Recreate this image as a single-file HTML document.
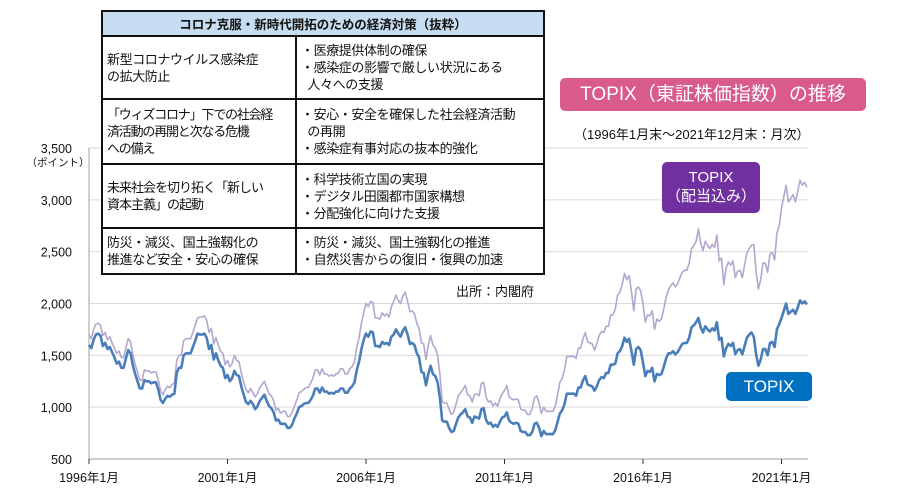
<!DOCTYPE html>
<html><head><meta charset="utf-8">
<style>
body{margin:0;background:#fff;width:900px;height:490px;overflow:hidden;position:relative;font-family:"Liberation Sans","Noto Sans CJK JP",sans-serif;}
svg{position:absolute;left:0;top:0}
#tbl{position:absolute;left:101px;top:10px;width:442px;border-collapse:collapse;font-size:13px;color:#111;background:#fff;table-layout:fixed}
#tbl td{border:2px solid #111;padding:0 4px;line-height:17px;vertical-align:middle;white-space:nowrap;overflow:hidden;letter-spacing:-0.4px}
#tbl th{border:2px solid #111;background:#c6ddf1;font-size:12.5px;height:23px;font-weight:bold;padding:0}
.box{position:absolute;color:#fff;text-align:center;border-radius:5px}
</style></head><body>
<svg id="chart" width="900" height="490"></svg>
<table id="tbl">
<colgroup><col style="width:194px"><col style="width:248px"></colgroup>
<tr><th colspan="2">コロナ克服・新時代開拓のための経済対策（抜粋）</th></tr>
<tr style="height:63px"><td>新型コロナウイルス感染症<br>の拡大防止</td><td>・医療提供体制の確保<br>・感染症の影響で厳しい状況にある<br>&nbsp;&nbsp;人々への支援</td></tr>
<tr style="height:65px"><td style="letter-spacing:-1.2px">「ウィズコロナ」下での社会経<br>済活動の再開と次なる危機<br>への備え</td><td>・安心・安全を確保した社会経済活動<br>&nbsp;&nbsp;の再開<br>・感染症有事対応の抜本的強化</td></tr>
<tr style="height:64px"><td style="letter-spacing:-1px">未来社会を切り拓く「新しい<br>資本主義」の起動</td><td>・科学技術立国の実現<br>・デジタル田園都市国家構想<br>・分配強化に向けた支援</td></tr>
<tr style="height:46px"><td>防災・減災、国土強靱化の<br>推進など安全・安心の確保</td><td>・防災・減災、国土強靱化の推進<br>・自然災害からの復旧・復興の加速</td></tr>
</table>
<div style="position:absolute;left:456px;top:281px;font-size:13px;color:#111">出所：内閣府</div>
<div class="box" style="left:560px;top:78px;width:306px;height:33px;line-height:33px;background:#d95b8c;font-size:19px">TOPIX（東証株価指数）の推移</div>
<div style="position:absolute;left:574px;top:124px;font-size:13px;color:#111">（1996年1月末～2021年12月末：月次）</div>
<div class="box" style="left:662px;top:162px;width:98px;height:51px;background:#7030a0;font-size:15px;line-height:19px;padding-top:6px;box-sizing:border-box">TOPIX<br>（配当込み）</div>
<div class="box" style="left:726px;top:372px;width:86px;height:29px;line-height:29px;background:#0070c0;font-size:17px">TOPIX</div>
<script>
const yTicks=[500,1000,1500,2000,2500,3000,3500];
const yTickLabels=["500","1,000","1,500","2,000","2,500","3,000","3,500"];
const xTickMonths=[0,60,120,180,240,300];
const xTickLabels=["1996年1月","2001年1月","2006年1月","2011年1月","2016年1月","2021年1月"];
const topix=[
1600,1570,1650,1700,1710,1690,1590,1620,1560,1580,1530,1480,
1420,1440,1380,1380,1470,1550,1520,1400,1320,1250,1180,1180,
1260,1250,1250,1230,1240,1240,1170,1070,1040,1080,1110,1100,
1120,1130,1330,1380,1380,1500,1520,1520,1520,1580,1640,1710,
1700,1700,1710,1670,1560,1600,1460,1520,1450,1400,1380,1280,
1310,1250,1280,1350,1310,1300,1200,1120,1050,1030,1060,1030,
980,1010,1060,1090,1120,1060,1010,990,950,870,880,840,
840,840,800,800,830,890,940,1000,1010,1030,1040,1040,
1070,1110,1180,1180,1140,1190,1150,1150,1130,1140,1130,1150,
1150,1180,1180,1140,1140,1180,1200,1240,1360,1440,1560,1650,
1710,1680,1730,1720,1590,1590,1580,1630,1610,1620,1600,1680,
1700,1750,1710,1680,1740,1770,1700,1610,1620,1600,1520,1480,
1340,1330,1210,1320,1400,1320,1300,1240,1090,870,860,860,
800,760,770,840,900,930,950,980,910,900,850,910,
900,890,980,990,880,840,850,810,830,810,860,900,
910,950,870,850,840,850,840,770,760,760,730,730,
760,840,850,800,720,770,740,740,740,740,780,860,
940,970,1030,1130,1130,1130,1130,1110,1190,1190,1260,1300,
1220,1210,1200,1160,1200,1260,1290,1280,1330,1330,1410,1410,
1420,1520,1540,1590,1670,1630,1660,1540,1410,1560,1580,1550,
1430,1300,1350,1340,1380,1250,1320,1310,1320,1390,1470,1520,
1520,1540,1510,1530,1570,1610,1620,1620,1670,1770,1790,1820,
1860,1770,1720,1780,1750,1730,1760,1740,1820,1650,1670,1490,
1570,1610,1590,1620,1510,1550,1560,1510,1590,1670,1700,1720,
1680,1510,1400,1460,1560,1560,1500,1620,1630,1580,1750,1800,
1860,1930,2000,1900,1920,1940,1900,1960,2030,2000,2020,1990];
const topixDividend=[
1700,1660,1750,1800,1810,1790,1690,1720,1650,1680,1620,1570,
1520,1540,1480,1480,1570,1660,1630,1500,1410,1340,1260,1260,
1360,1350,1350,1330,1340,1340,1260,1160,1120,1170,1200,1190,
1220,1230,1450,1500,1500,1640,1660,1660,1660,1720,1790,1860,
1870,1870,1880,1840,1720,1760,1610,1670,1600,1540,1520,1410,
1450,1390,1420,1500,1450,1440,1330,1240,1170,1140,1180,1140,
1100,1130,1190,1220,1250,1190,1130,1110,1060,970,990,940,
960,960,910,910,950,1010,1070,1140,1150,1170,1190,1190,
1230,1280,1360,1360,1310,1370,1320,1320,1300,1310,1300,1320,
1330,1370,1370,1320,1320,1370,1390,1440,1580,1670,1810,1910,
2000,1970,2020,2010,1860,1860,1850,1910,1880,1900,1870,1970,
2020,2080,2030,2000,2070,2110,2020,1920,1930,1900,1810,1760,
1620,1610,1460,1600,1690,1600,1570,1500,1320,1050,1040,1040,
980,930,950,1030,1110,1140,1170,1210,1120,1110,1050,1120,
1130,1110,1230,1240,1100,1050,1060,1010,1040,1010,1080,1130,
1160,1210,1100,1080,1070,1080,1070,980,970,970,930,930,
990,1090,1110,1040,940,1000,960,960,960,960,1010,1120,
1240,1280,1360,1490,1490,1490,1490,1470,1570,1570,1660,1720,
1630,1620,1610,1550,1610,1690,1730,1720,1780,1780,1890,1890,
1950,2080,2110,2180,2290,2230,2270,2110,1930,2140,2160,2120,
2000,1820,1890,1880,1930,1750,1850,1830,1850,1950,2060,2130,
2170,2200,2160,2190,2250,2300,2320,2320,2390,2530,2560,2600,
2720,2580,2510,2600,2560,2530,2570,2540,2660,2410,2440,2180,
2340,2400,2370,2410,2250,2310,2320,2250,2370,2490,2530,2560,
2570,2310,2140,2230,2390,2390,2300,2480,2490,2420,2680,2750,
2920,3030,3140,2980,3010,3050,2980,3080,3190,3140,3170,3120];

const NS="http://www.w3.org/2000/svg";
const svg=document.getElementById('chart');
const X0=89,X1=808,Y0=459,Y1=148;
function xs(i){return X0+i*138.5/60;}
function ys(v){return Y0-(v-500)*(Y0-Y1)/3000;}
function mk(tag,attrs,parent){const e=document.createElementNS(NS,tag);for(const k in attrs)e.setAttribute(k,attrs[k]);(parent||svg).appendChild(e);return e;}
yTicks.forEach((v,k)=>{
  if(k>0){const g=mk('line',{x1:X0,x2:X1,y1:ys(v),y2:ys(v),stroke:'#d9d9d9','stroke-width':1});
  
  }
  const t=mk('text',{x:72,y:ys(v)+5,'text-anchor':'end','font-size':12.5,fill:'#111'});
  t.textContent=yTickLabels[k];
  
  
});
const yt=mk('text',{x:58,y:166,'text-anchor':'middle','font-size':10.5,fill:'#111'});
yt.textContent='（ポイント）';


const ya=mk('line',{x1:X0,x2:X0,y1:Y1,y2:Y0,stroke:'#bfbfbf','stroke-width':1.5});


const xa=mk('line',{x1:X0,x2:X1,y1:Y0,y2:Y0,stroke:'#bfbfbf','stroke-width':1.5});


xTickMonths.forEach((m,k)=>{
  const tk=mk('line',{x1:xs(m),x2:xs(m),y1:Y0,y2:Y0+5,stroke:'#333','stroke-width':1});
  
  
  const t=mk('text',{x:xs(m),y:482,'text-anchor':'middle','font-size':12.5,fill:'#111'});
  t.textContent=xTickLabels[k];
  
  
});
function path(data,color,w,name){
  const d=data.map((v,i)=>(i?'L':'M')+xs(i).toFixed(1)+','+ys(v).toFixed(1)).join('');
  const p=mk('path',{d:d,fill:'none',stroke:color,'stroke-width':w,'stroke-linejoin':'round'});
  
  
}
path(topixDividend,'#b3a6cf',1.6,'topix-dividend-line');
path(topix,'#4a7ebb',2.6,'topix-line');
</script>
</body></html>
